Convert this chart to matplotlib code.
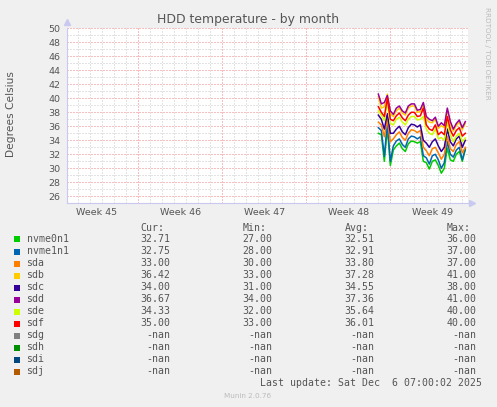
import numpy as np
import matplotlib
matplotlib.use("Agg")
import matplotlib.pyplot as plt
from matplotlib.patches import Rectangle

W, H = 497, 407

# time in days from left edge of graph (week boundaries at 6, 13, 20, 27)
t = np.arange(30) * 0.25 + 26.0

nvme0n1 = [35.0, 34.8, 31.0, 35.8, 30.4, 32.6, 33.2, 33.6, 32.8, 32.4, 33.5, 33.9, 33.8, 33.6, 33.8,
           31.0, 30.8, 29.9, 31.0, 31.2, 30.4, 29.3, 30.0, 32.9, 31.2, 31.0, 32.0, 32.4, 31.0, 32.7]
nvme1n1 = [35.8, 35.4, 31.7, 36.5, 31.0, 33.2, 33.9, 34.2, 33.4, 33.0, 34.2, 34.6, 34.5, 34.2, 34.5,
           31.8, 31.5, 30.6, 31.8, 32.0, 31.2, 30.0, 30.8, 33.8, 32.0, 31.6, 32.6, 33.0, 31.2, 32.75]
sda = [36.6, 36.2, 34.5, 37.0, 33.8, 34.2, 34.8, 35.2, 34.4, 34.0, 35.0, 35.5, 35.4, 35.1, 35.4,
       33.0, 32.5, 31.8, 32.8, 33.0, 32.2, 31.3, 32.0, 34.6, 32.8, 32.4, 33.4, 33.8, 32.2, 33.0]
sdb = [40.2, 38.6, 38.8, 40.6, 37.8, 37.4, 38.2, 38.6, 37.9, 37.6, 38.6, 38.9, 38.9, 38.0, 38.1,
       39.1, 37.0, 36.6, 36.5, 37.0, 35.7, 36.1, 35.8, 38.3, 36.4, 35.3, 36.1, 36.6, 35.5, 36.42]
sdc = [37.6, 37.0, 35.6, 37.8, 35.0, 35.0, 35.6, 36.0, 35.2, 34.8, 35.8, 36.3, 36.2, 35.9, 36.2,
       34.0, 33.6, 33.0, 33.8, 34.2, 33.2, 32.4, 33.0, 35.6, 33.8, 33.2, 34.2, 34.6, 33.0, 34.0]
sdd = [40.6, 39.2, 39.4, 40.4, 38.2, 37.7, 38.6, 38.9, 38.2, 37.9, 38.9, 39.2, 39.2, 38.3, 38.4,
       39.4, 37.4, 37.0, 36.8, 37.3, 36.0, 36.5, 36.1, 38.6, 36.7, 35.6, 36.4, 36.9, 35.8, 36.67]
sde = [38.2, 37.6, 36.8, 39.4, 36.4, 36.2, 37.0, 37.3, 36.6, 36.2, 37.0, 37.4, 37.4, 36.9, 37.0,
       37.4, 35.6, 35.0, 34.8, 35.6, 34.2, 34.4, 34.0, 36.6, 34.8, 33.8, 34.6, 35.0, 33.8, 34.33]
sdf = [38.8, 38.0, 37.4, 40.0, 37.0, 36.8, 37.5, 37.9, 37.2, 36.8, 37.6, 38.0, 38.0, 37.4, 37.5,
       38.6, 36.2, 35.6, 35.4, 36.2, 34.8, 35.2, 34.8, 37.4, 35.5, 34.6, 35.4, 35.8, 34.6, 35.0]

names = ["nvme0n1", "nvme1n1", "sda", "sdb", "sdc", "sdd", "sde", "sdf", "sdg", "sdh", "sdi", "sdj"]
colors = ["#00CC00", "#0066B3", "#FF8000", "#FFCC00", "#330099", "#990099",
          "#CCFF00", "#FF0000", "#808080", "#008F00", "#00487D", "#B35A00"]
series = [nvme0n1, nvme1n1, sda, sdb, sdc, sdd, sde, sdf]
cur = ["32.71", "32.75", "33.00", "36.42", "34.00", "36.67", "34.33", "35.00"]
mins = ["27.00", "28.00", "30.00", "33.00", "31.00", "34.00", "32.00", "33.00"]
avgs = ["32.51", "32.91", "33.80", "37.28", "34.55", "37.36", "35.64", "36.01"]
maxs = ["36.00", "37.00", "37.00", "41.00", "38.00", "41.00", "40.00", "40.00"]
week_labels = ["Week 45", "Week 46", "Week 47", "Week 48", "Week 49"]
week_pos = [2.5, 9.5, 16.5, 23.5, 30.5]
week_bounds = [6, 13, 20, 27]

fig = plt.figure(figsize=(W / 100, H / 100), dpi=100, facecolor="#F0F0F0")
ax = fig.add_axes([66.5 / W, 1 - 203.3 / H, (468.3 - 66.5) / W, (203.3 - 28.3) / H])
ax.set_facecolor("white")
ax.set_xlim(0, 33.5)
ax.set_ylim(25, 50)

dot = (0, (1, 2))
for d in range(1, 34):
    if d not in week_bounds:
        ax.axvline(d, color="#C8C8C8", lw=0.72, ls=dot, zorder=1)
for v in range(26, 51):
    if v % 2:
        ax.axhline(v, color="#C8C8C8", lw=0.72, ls=dot, zorder=1)
for d in week_bounds:
    ax.axvline(d, color="#F08080", lw=0.72, ls=dot, zorder=1.5)
for v in range(26, 51, 2):
    ax.axhline(v, color="#F08080", lw=0.72, ls=dot, zorder=1.5)

for s, c in zip(series, colors):
    ax.plot(t, s, color=c, lw=1.1, zorder=3)

for sp in ["top", "right"]:
    ax.spines[sp].set_visible(False)
for sp in ["left", "bottom"]:
    ax.spines[sp].set_color("#C8C8F0")
    ax.spines[sp].set_linewidth(0.8)
ax.plot([0], [1.035], marker="^", ms=4, color="#C8C8F0", transform=ax.transAxes, clip_on=False)
ax.plot([1.01], [0], marker=">", ms=4, color="#C8C8F0", transform=ax.transAxes, clip_on=False)

ax.set_yticks(range(26, 51, 2))
ax.set_xticks(week_pos)
ax.set_xticklabels(week_labels)
ax.tick_params(axis="both", length=0, labelsize=6.8, colors="#555555")
ax.tick_params(axis="y", pad=4.3)
ax.tick_params(axis="x", pad=3.5)

fig.text(248 / W, 1 - 20 / H, "HDD temperature - by month", ha="center", va="center",
         fontsize=8.9, color="#555555")
fig.text(11.5 / W, 1 - 114 / H, "Degrees Celsius", rotation=90, ha="center", va="center",
         fontsize=7.7, color="#555555")
fig.text(487.5 / W, 1 - 53 / H, "RRDTOOL / TOBI OETIKER", rotation=270, ha="center", va="center",
         fontsize=5.2, color="#BBBBBB")

mono = "DejaVu Sans Mono"
fs = 7.1
tc = "#555555"
hy = 227.5
for lab, xr in zip(["Cur:", "Min:", "Avg:", "Max:"], [164.5, 266.5, 368.5, 470.5]):
    fig.text(xr / W, 1 - hy / H, lab, ha="right", va="center", family=mono, fontsize=fs, color=tc)

for i, (n, c) in enumerate(zip(names, colors)):
    y = 239.5 + 12 * i
    fig.add_artist(Rectangle((14 / W, 1 - (y + 3) / H), 6 / W, 6 / H, transform=fig.transFigure,
                             facecolor=c, edgecolor="none"))
    fig.text(26.5 / W, 1 - y / H, n, ha="left", va="center", family=mono, fontsize=fs, color=tc)
    if i < len(series):
        vals = [cur[i], mins[i], avgs[i], maxs[i]]
    else:
        vals = ["-nan"] * 4
    for v, xr in zip(vals, [170.5, 272.5, 374.5, 476.5]):
        fig.text(xr / W, 1 - y / H, v, ha="right", va="center", family=mono, fontsize=fs, color=tc)

fig.text(482.5 / W, 1 - 383.3 / H, "Last update: Sat Dec  6 07:00:02 2025", ha="right", va="center",
         family=mono, fontsize=fs, color=tc)
fig.text(248 / W, 1 - 395.7 / H, "Munin 2.0.76", ha="center", va="center", fontsize=5.2, color="#BBBBBB")

fig.savefig("out.png", dpi=100, facecolor=fig.get_facecolor())
